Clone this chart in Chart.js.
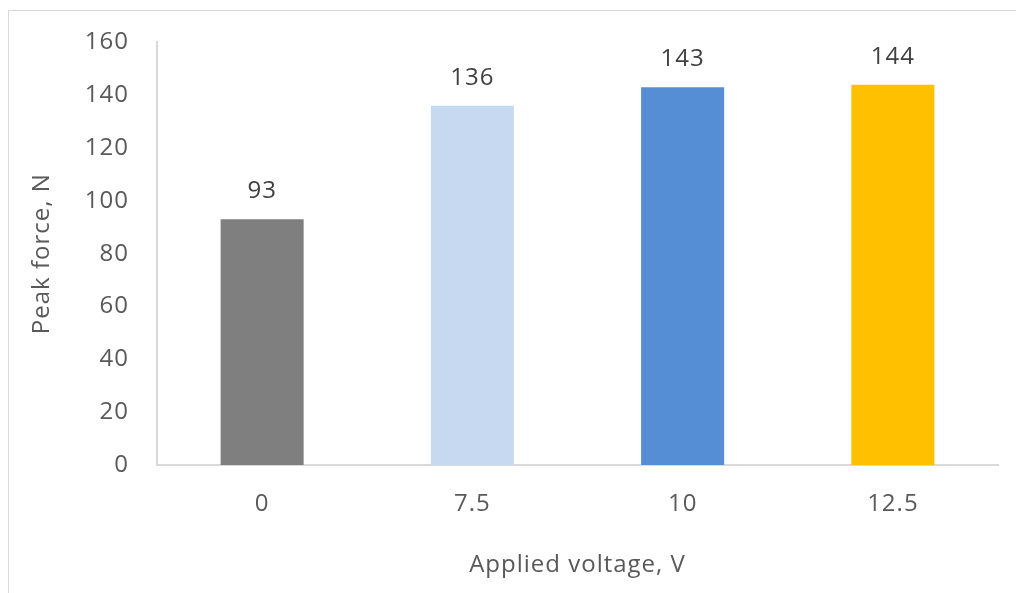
<!DOCTYPE html>
<html>
<head>
<meta charset="utf-8">
<script src="https://cdn.jsdelivr.net/npm/chart.js@4"></script>
<style>
  body { margin: 0; background: #fff; }
  .wrap { position: relative; width: 1016px; height: 593px; overflow: hidden; }
  .frame { position: absolute; left: 8px; top: 10px; width: 1100px; height: 700px; border: 1px solid #d9d9d9; box-sizing: border-box; }
  canvas { position: absolute; left: 0; top: 0; }
</style>
</head>
<body>
<div class="wrap">
  <div class="frame"></div>
  <canvas id="chart" width="1016" height="593"></canvas>
</div>
<script>
const voltages = ['0', '7.5', '10', '12.5'];
const peakForce = [93, 136, 143, 144];
const barColors = ['#7f7f7f', '#c6d9f0', '#558ed5', '#ffc000'];
const yTicks = [0, 20, 40, 60, 80, 100, 120, 140, 160];

const fontFamily = "'Open Sans', sans-serif";

// a bit of letter spacing, the original text is set rather loose
const spacing = {
  id: 'spacing',
  beforeDraw(chart) { chart.ctx.letterSpacing = '1px'; }
};

// labels on top of each bar
const valueLabels = {
  id: 'valueLabels',
  afterDatasetsDraw(chart) {
    const ctx = chart.ctx;
    const meta = chart.getDatasetMeta(0);
    ctx.save();
    ctx.font = '24px ' + fontFamily;
    ctx.fillStyle = '#404040';
    ctx.textAlign = 'center';
    ctx.textBaseline = 'middle';
    meta.data.forEach((bar, i) => {
      ctx.fillText(peakForce[i], bar.x, bar.y - 28);
    });
    ctx.restore();
  }
};

const ctx = document.getElementById('chart').getContext('2d');
new Chart(ctx, {
  type: 'bar',
  data: {
    labels: voltages,
    datasets: [{
      data: peakForce,
      backgroundColor: barColors,
      borderWidth: 0,
      categoryPercentage: 1,
      barPercentage: 0.395
    }]
  },
  options: {
    responsive: false,
    animation: false,
    layout: { padding: { left: 20, top: 42, right: 18, bottom: 0 } },
    plugins: { legend: { display: false }, tooltip: { enabled: false } },
    scales: {
      x: {
        grid: { display: false, drawTicks: false },
        border: { color: '#d9d9d9', width: 2 },
        ticks: { color: '#595959', font: { family: fontFamily, size: 24 }, padding: 25 },
        title: { display: true, text: 'Applied voltage, V', color: '#595959',
                 font: { family: fontFamily, size: 24 }, padding: { top: 0, bottom: 13 } },
        afterFit(scale) { scale.height = 128; }
      },
      y: {
        min: 0,
        max: 160,
        afterBuildTicks(scale) { scale.ticks = yTicks.map(v => ({ value: v })); },
        grid: { display: false, drawTicks: false },
        border: { color: '#d9d9d9', width: 2 },
        ticks: { color: '#595959', font: { family: fontFamily, size: 24 }, padding: 28 },
        title: { display: true, text: 'Peak force, N', color: '#595959',
                 font: { family: fontFamily, size: 24 }, padding: { top: 8, bottom: 0 } },
        afterFit(scale) { scale.width = 137; }
      }
    }
  },
  plugins: [spacing, valueLabels]
});
</script>
</body>
</html>
